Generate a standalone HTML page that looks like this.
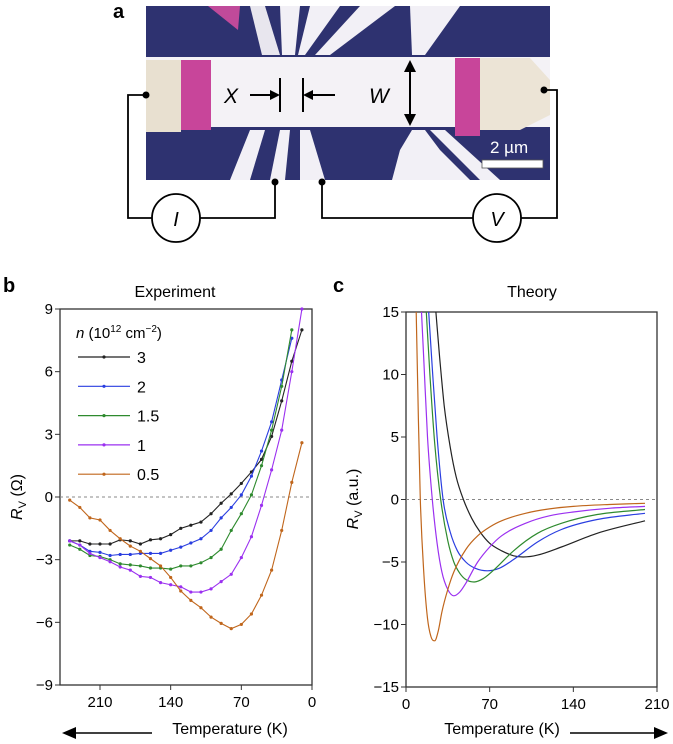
<!DOCTYPE html>
<html><head><meta charset="utf-8"><style>
html,body{margin:0;padding:0;background:#fff;}
svg{display:block;font-family:"Liberation Sans",sans-serif;}
</style></head><body>
<svg width="673" height="744" viewBox="0 0 673 744">
<g>
<text x="113" y="18" font-size="20" font-weight="bold">a</text>
<g>
<rect x="146" y="6" width="404" height="174" fill="#2e3270"/>
<polygon points="250,6 265,6 280,55 262,55" fill="#e8e6ee"/>
<polygon points="280,6 300,6 295,55 282,55" fill="#f2f0f6"/>
<polygon points="310,6 340,6 305,55 298,55" fill="#f2f0f6"/>
<polygon points="360,6 395,6 330,55 315,55" fill="#f2f0f6"/>
<polygon points="410,6 460,6 425,55 412,55" fill="#f2f0f6"/>
<polygon points="208,6 240,6 238,30" fill="#c04a9a"/>
<polygon points="250,130 265,130 250,180 230,180" fill="#f2f0f6"/>
<polygon points="280,130 290,130 285,180 270,180" fill="#f2f0f6"/>
<polygon points="300,130 310,130 325,180 300,180" fill="#f2f0f6"/>
<polygon points="412,130 425,130 440,150 470,180 392,180 400,150" fill="#f2f0f6"/>
<polygon points="430,130 445,130 500,180 480,180" fill="#f2f0f6"/>
<rect x="146" y="57" width="404" height="70" fill="#f4f2f6"/>
<rect x="146" y="60" width="35" height="72" fill="#e8e0d0"/>
<rect x="181" y="60" width="30" height="70" fill="#c8459a"/>
<rect x="455" y="58" width="25" height="78" fill="#c8459a"/>
<polygon points="480,58 530,58 550,80 550,115 520,130 480,130" fill="#ece4d6"/>
<rect x="482" y="160" width="61" height="8" fill="#fff" stroke="#555" stroke-width="0.8"/>
<text x="490" y="153" font-size="17" fill="#fff">2 µm</text>
</g>
<g stroke="#000" stroke-width="2" fill="none">
<line x1="280" y1="78" x2="280" y2="112"/><line x1="303" y1="78" x2="303" y2="112"/>
<line x1="250" y1="95" x2="278" y2="95"/><line x1="305" y1="95" x2="335" y2="95"/>
<line x1="410" y1="64" x2="410" y2="122"/>
</g>
<polygon points="280,95 270,90 270,100" fill="#000"/><polygon points="303,95 313,90 313,100" fill="#000"/>
<polygon points="410,60 404,72 416,72" fill="#000"/><polygon points="410,126 404,114 416,114" fill="#000"/>
<text x="224" y="103" font-size="21" font-style="italic">X</text>
<text x="369" y="103" font-size="21" font-style="italic">W</text>
<g stroke="#000" stroke-width="1.8" fill="none">
<polyline points="146,95 128,95 128,218 152,218"/>
<polyline points="200,218 275,218 275,182"/>
<polyline points="322,182 322,218 473,218"/>
<polyline points="521,218 557,218 557,90 544,90"/>
<circle cx="176" cy="218" r="24" fill="#fff"/>
<circle cx="497" cy="218" r="24" fill="#fff"/>
</g>
<circle cx="146" cy="95" r="3.5"/><circle cx="275" cy="182" r="3.5"/><circle cx="322" cy="182" r="3.5"/><circle cx="544" cy="90" r="3.5"/>
<text x="176" y="226" font-size="20" font-style="italic" text-anchor="middle">I</text>
<text x="497" y="226" font-size="20" font-style="italic" text-anchor="middle">V</text>
</g>
<text x="3" y="292" font-size="20" font-weight="bold">b</text>
<text x="333" y="292" font-size="20" font-weight="bold">c</text>
<text x="175" y="297" font-size="16" text-anchor="middle">Experiment</text>
<text x="532" y="297" font-size="16" text-anchor="middle">Theory</text>
<g id="pb"></g>
<g id="pc"></g>
</svg>
<script>
const NS="http://www.w3.org/2000/svg";
const expT=[240,230,220,210,200,190,180,170,160,150,140,130,120,110,100,90,80,70,60,50,40,30,20,10];
const exp3=[-2.1,-2.1,-2.25,-2.25,-2.25,-2.05,-2.1,-2.25,-2.05,-2.0,-1.8,-1.5,-1.35,-1.2,-0.8,-0.3,0.15,0.65,1.2,1.8,2.9,4.6,6.5,8.0];
const exp2=[-2.1,-2.3,-2.6,-2.65,-2.8,-2.75,-2.75,-2.7,-2.7,-2.7,-2.55,-2.4,-2.2,-2.0,-1.6,-1.0,-0.5,0.1,1.0,2.2,3.6,5.6,7.6,9.6];
const exp15=[-2.3,-2.5,-2.8,-2.85,-3.0,-3.2,-3.25,-3.3,-3.4,-3.4,-3.45,-3.3,-3.3,-3.15,-2.9,-2.5,-1.6,-0.8,0.1,1.5,3.2,5.3,8.0,9.8];
const exp1=[-2.1,-2.3,-2.7,-2.9,-3.1,-3.35,-3.5,-3.8,-3.85,-4.1,-4.2,-4.3,-4.55,-4.55,-4.4,-4.05,-3.7,-2.9,-1.9,-0.4,1.3,3.2,6.0,9.0];
const exp05=[-0.15,-0.5,-1.0,-1.1,-1.6,-2.0,-2.35,-2.6,-2.95,-3.3,-3.85,-4.5,-4.95,-5.3,-5.75,-6.05,-6.3,-6.1,-5.6,-4.7,-3.5,-1.6,0.7,2.6];
const expLabels=["3","2","1.5","1","0.5"];
const colors=["#222","#2a3ee0","#2e8a2e","#9b30f0","#c0661c"];
const bYTicks=[9,6,3,0,-3,-6,-9];
const bXTicks=[210,140,70,0];
const thT05=[8.5,10,12,15,18,21,24,27,30,35,40,50,60,70,80,100,120,140,170,200];
const th05=[15,8,0,-6,-9.5,-11,-11.3,-10.5,-9,-7.2,-5.8,-4,-2.9,-2.2,-1.7,-1.1,-0.75,-0.55,-0.4,-0.3];
const thT1=[13,15,18,22,26,30,35,40,45,50,60,70,80,100,120,140,170,200];
const th1=[15,11,5,0,-3.5,-5.8,-7.2,-7.7,-7.4,-6.7,-5,-3.8,-2.9,-1.9,-1.3,-1,-0.7,-0.55];
const thT15=[17,20,24,29,35,40,45,50,57,65,75,90,110,130,160,200];
const th15=[15,10,4.5,0,-3.3,-5,-5.9,-6.4,-6.6,-6.3,-5.5,-4.1,-2.7,-1.9,-1.2,-0.8];
const thT2=[19,22,26,31,37,43,50,58,68,78,90,110,130,160,200];
const th2=[15,10.5,5,0,-2.6,-4.1,-5,-5.5,-5.7,-5.5,-4.8,-3.4,-2.4,-1.6,-1.1];
const thT3=[25,28,32,37,42,48,55,62,70,80,90,98,110,130,160,200];
const th3=[15,11.5,7.5,4.2,1.8,0,-1.5,-2.6,-3.5,-4.1,-4.5,-4.6,-4.45,-3.8,-2.7,-1.7];
const cYTicks=[15,10,5,0,-5,-10,-15];
const cXTicks=[0,70,140,210];

function el(p,tag,a){const e=document.createElementNS(NS,tag);for(const k in a)e.setAttribute(k,a[k]);p.appendChild(e);return e;}
function monotone(pts){const n=pts.length,d=[],m=[];
 for(let i=0;i<n-1;i++)d.push((pts[i+1][1]-pts[i][1])/(pts[i+1][0]-pts[i][0]));
 m[0]=d[0];m[n-1]=d[n-2];
 for(let i=1;i<n-1;i++){m[i]=(d[i-1]*d[i]<=0)?0:(d[i-1]+d[i])/2;}
 for(let i=0;i<n-1;i++){if(d[i]===0){m[i]=0;m[i+1]=0;continue;}
  const a=m[i]/d[i],b=m[i+1]/d[i],s=a*a+b*b;if(s>9){const t=3/Math.sqrt(s);m[i]=t*a*d[i];m[i+1]=t*b*d[i];}}
 let p="M"+pts[0][0].toFixed(1)+","+pts[0][1].toFixed(1);
 for(let i=0;i<n-1;i++){const h=(pts[i+1][0]-pts[i][0])/3;
  p+="C"+(pts[i][0]+h).toFixed(1)+","+(pts[i][1]+m[i]*h).toFixed(1)+" "+(pts[i+1][0]-h).toFixed(1)+","+(pts[i+1][1]-m[i+1]*h).toFixed(1)+" "+pts[i+1][0].toFixed(1)+","+pts[i+1][1].toFixed(1);}
 return p;}

function axes(g,L,R,T,B,xs,ys,xt,yt){
 const f=el(g,"rect",{x:L,y:T,width:R-L,height:B-T,fill:"none",stroke:"#333","stroke-width":1.3});
 
 
 el(g,"line",{x1:L,x2:R,y1:ys(0),y2:ys(0),stroke:"#888","stroke-dasharray":"3,3","stroke-width":1});
 yt.forEach(v=>{el(g,"line",{x1:L-5,x2:L,y1:ys(v),y2:ys(v),stroke:"#333"});
  const t=el(g,"text",{x:L-7,y:ys(v)+5,"font-size":15,"text-anchor":"end"});t.textContent=String(v).replace("-","\u2212");
  
  });
 xt.forEach(v=>{el(g,"line",{x1:xs(v),x2:xs(v),y1:B,y2:B+5,stroke:"#333"});
  const t=el(g,"text",{x:xs(v),y:B+22,"font-size":15,"text-anchor":"middle"});t.textContent=v;
  
  });
}
(function(){const g=document.getElementById("pb");const L=60,R=312,T=309,B=685;
 const xs=t=>312-t*(212/210), ys=v=>497-v*(188/9);
 axes(g,L,R,T,B,xs,ys,bXTicks,bYTicks);
 const yl=el(g,"text",{transform:"translate(22,497) rotate(-90)","font-size":16,"text-anchor":"middle"});
 yl.innerHTML='<tspan font-style="italic">R</tspan><tspan font-size="11" dy="4">V</tspan><tspan dy="-4"> (Ω)</tspan>';
 
 
 const xl=el(g,"text",{x:230,y:734,"font-size":16,"text-anchor":"middle"});xl.textContent="Temperature (K)";
 
 
 el(g,"line",{x1:70,x2:152,y1:733,y2:733,stroke:"#000","stroke-width":1.5});
 el(g,"polygon",{points:"62,733 76,727 76,739",fill:"#000"});
 const series=[exp3,exp2,exp15,exp1,exp05];
 series.forEach((s,i)=>{const pts=expT.map((t,j)=>[xs(t),ys(s[j])]).filter(p=>p[1]>=T-2);
  const pl=el(g,"polyline",{points:pts.map(p=>p.join(",")).join(" "),fill:"none",stroke:colors[i],"stroke-width":1.1});
  
  
  pts.forEach(p=>el(g,"circle",{cx:p[0],cy:p[1],r:1.6,fill:colors[i]}));});
 const lt=el(g,"text",{x:76,y:338,"font-size":15});
 lt.innerHTML='<tspan font-style="italic">n</tspan> (10<tspan font-size="10" dy="-6">12</tspan><tspan dy="6"> cm</tspan><tspan font-size="10" dy="-6">−2</tspan><tspan dy="6">)</tspan>';
 
 
 expLabels.forEach((lab,i)=>{const y=357+i*29.3;
  const ln=el(g,"line",{x1:78,x2:130,y1:y,y2:y,stroke:colors[i],"stroke-width":1.2});
  
  
  el(g,"circle",{cx:104,cy:y,r:1.6,fill:colors[i]});
  const t=el(g,"text",{x:137,y:y+6,"font-size":16});t.textContent=lab;
  
  });
})();
(function(){const g=document.getElementById("pc");const L=406,R=657,T=312,B=687;
 const xs=t=>406+t*(251/210), ys=v=>499.5-v*(187.5/15);
 axes(g,L,R,T,B,xs,ys,cXTicks,cYTicks);
 const yl=el(g,"text",{transform:"translate(358,499) rotate(-90)","font-size":16,"text-anchor":"middle"});
 yl.innerHTML='<tspan font-style="italic">R</tspan><tspan font-size="11" dy="4">V</tspan><tspan dy="-4"> (a.u.)</tspan>';
 
 
 const xl=el(g,"text",{x:502,y:734,"font-size":16,"text-anchor":"middle"});xl.textContent="Temperature (K)";
 
 
 el(g,"line",{x1:570,x2:660,y1:733,y2:733,stroke:"#000","stroke-width":1.5});
 el(g,"polygon",{points:"668,733 654,727 654,739",fill:"#000"});
 const S=[[thT3,th3],[thT2,th2],[thT15,th15],[thT1,th1],[thT05,th05]];
 S.forEach((s,i)=>{const pts=s[0].map((t,j)=>[xs(t),ys(s[1][j])]);
  const p=el(g,"path",{d:monotone(pts),fill:"none",stroke:colors[i],"stroke-width":1.2});
  
  });
})();
</script>
</body></html>
